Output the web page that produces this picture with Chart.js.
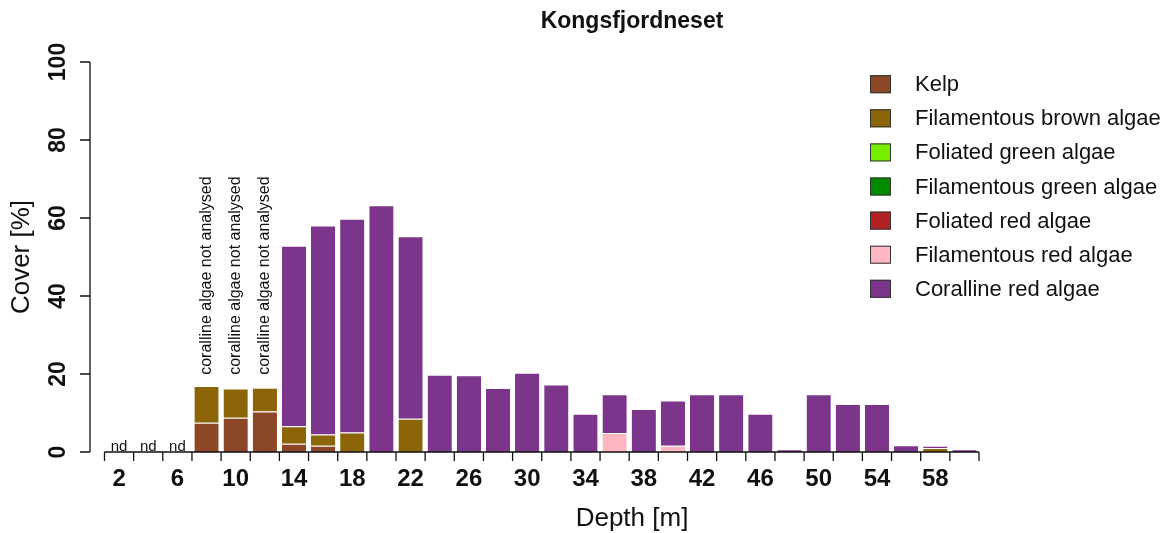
<!DOCTYPE html>
<html>
<head>
<meta charset="utf-8">
<title>Kongsfjordneset</title>
<script src="https://cdn.jsdelivr.net/npm/chart.js@4.4.1/dist/chart.umd.min.js"></script>
<style>
  html, body { margin: 0; padding: 0; background: #ffffff; }
  canvas { display: block; }
</style>
</head>
<body>
<canvas id="cover" width="1173" height="533"></canvas>
<script>
// Depth classes (m), one bar per class
const depths = [2, 4, 6, 8, 10, 12, 14, 16, 18, 20, 22, 24, 26, 28, 30,
                32, 34, 36, 38, 40, 42, 44, 46, 48, 50, 52, 54, 56, 58, 60];

// Cover (%) per algal group at each depth
const kelp          = [0, 0, 0, 7.5, 8.8, 10.4, 2.1, 1.6, 0, 0, 0, 0, 0, 0, 0,
                       0, 0, 0, 0, 0, 0, 0, 0, 0, 0, 0, 0, 0, 0, 0];
const filBrown      = [0, 0, 0, 9.4, 7.5, 6.1, 4.5, 2.9, 5.0, 0, 8.5, 0, 0, 0, 0,
                       0, 0, 0, 0, 0, 0, 0, 0, 0, 0, 0, 0, 0, 1.0, 0];
const folGreen      = [0, 0, 0, 0, 0, 0, 0, 0, 0, 0, 0, 0, 0, 0, 0,
                       0, 0, 0, 0, 0, 0, 0, 0, 0, 0, 0, 0, 0, 0, 0];
const filGreen      = [0, 0, 0, 0, 0, 0, 0, 0, 0, 0, 0, 0, 0, 0, 0,
                       0, 0, 0, 0, 0, 0, 0, 0, 0, 0, 0, 0, 0, 0, 0];
const folRed        = [0, 0, 0, 0, 0, 0, 0, 0, 0, 0, 0, 0, 0, 0, 0,
                       0, 0, 0, 0, 0, 0, 0, 0, 0, 0, 0, 0, 0, 0, 0];
const filRed        = [0, 0, 0, 0, 0, 0, 0, 0, 0, 0, 0, 0, 0, 0, 0,
                       0, 0, 4.9, 0, 1.6, 0, 0, 0, 0, 0, 0, 0, 0, 0, 0];
const coralline     = [0, 0, 0, 0, 0, 0, 46.3, 53.6, 54.8, 63.3, 46.8, 19.8, 19.7, 16.4, 20.3,
                       17.3, 9.8, 9.9, 11.0, 11.6, 14.8, 14.8, 9.8, 0.7, 14.8, 12.3, 12.3, 1.7, 0.6, 0.7];

// Group names and fill colours
const groupNames  = ['Kelp', 'Filamentous brown algae', 'Foliated green algae',
                     'Filamentous green algae', 'Foliated red algae',
                     'Filamentous red algae', 'Coralline red algae'];
const groupColors = ['#8B4726', '#8B6508', '#76EE00', '#008B00', '#B22222', '#FFB6C1', '#7B368C'];

// Axis ticks
const yTicks = [0, 20, 40, 60, 80, 100];
const xTickLabels = ['2', '6', '10', '14', '18', '22', '26', '30', '34', '38', '42', '46', '50', '54', '58'];

// Notes written at individual depths
const ndDepths = [2, 4, 6];
const notAnalysedDepths = [8, 10, 12];
const notAnalysedText = 'coralline algae not analysed';
const notAnalysedLevel = 19.8;

const FONT = '"Liberation Sans", Arial, Helvetica, sans-serif';
const INK = '#111111';

const series = [kelp, filBrown, folGreen, filGreen, folRed, filRed, coralline];

const datasets = series.map((values, i) => ({
  label: groupNames[i],
  data: values,
  backgroundColor: groupColors[i],
  borderColor: '#ffffff',
  borderWidth: { top: 1, right: 0, bottom: 0, left: 0 },
  borderSkipped: 'start',
  barPercentage: 0.833,
  categoryPercentage: 1.0,
  stack: 'cover'
}));

// Base-graphics style axes, labels, notes and legend
const decorations = {
  id: 'decorations',
  afterDraw(chart) {
    const { ctx, chartArea: area, scales } = chart;
    const xs = scales.x, ys = scales.y;
    const y0 = ys.getPixelForValue(0);
    const y100 = ys.getPixelForValue(100);
    const step = xs.getPixelForValue(1) - xs.getPixelForValue(0);
    ctx.save();
    ctx.strokeStyle = INK;
    ctx.fillStyle = INK;
    ctx.lineWidth = 1.3;

    // y axis, set off to the left of the bars
    const yAxisX = area.left - 14.5;
    ctx.beginPath();
    ctx.moveTo(yAxisX, y0);
    ctx.lineTo(yAxisX, y100);
    yTicks.forEach(v => {
      const py = ys.getPixelForValue(v);
      ctx.moveTo(yAxisX, py);
      ctx.lineTo(yAxisX - 10, py);
    });
    ctx.stroke();
    ctx.font = 'bold 23px ' + FONT;
    ctx.textAlign = 'center';
    ctx.textBaseline = 'middle';
    yTicks.forEach(v => {
      const py = ys.getPixelForValue(v);
      ctx.save();
      ctx.translate(yAxisX - 31, py);
      ctx.rotate(-Math.PI / 2);
      ctx.fillText(String(v), 0, 0);
      ctx.restore();
    });

    // x axis along the zero line with ticks between bars
    ctx.beginPath();
    ctx.moveTo(area.left, y0);
    ctx.lineTo(area.right, y0);
    for (let i = 0; i <= depths.length; i++) {
      const px = xs.getPixelForValue(i) - step / 2;
      ctx.moveTo(px, y0);
      ctx.lineTo(px, y0 + 9);
    }
    ctx.stroke();
    ctx.font = 'bold 24px ' + FONT;
    xTickLabels.forEach(lbl => {
      const idx = depths.indexOf(Number(lbl));
      ctx.fillText(lbl, xs.getPixelForValue(idx), y0 + 27);
    });

    // "nd" marks where no data exist
    ctx.font = '15px ' + FONT;
    ctx.textBaseline = 'alphabetic';
    ndDepths.forEach(d => {
      ctx.fillText('nd', xs.getPixelForValue(depths.indexOf(d)), y0 - 1);
    });

    // vertical notes above the shallow bars
    ctx.font = '16px ' + FONT;
    ctx.textAlign = 'left';
    ctx.textBaseline = 'middle';
    notAnalysedDepths.forEach(d => {
      ctx.save();
      ctx.translate(xs.getPixelForValue(depths.indexOf(d)), ys.getPixelForValue(notAnalysedLevel));
      ctx.rotate(-Math.PI / 2);
      ctx.fillText(notAnalysedText, 0, 0);
      ctx.restore();
    });

    // titles
    const midX = 632;
    ctx.textAlign = 'center';
    ctx.font = 'bold 23px ' + FONT;
    ctx.fillText('Kongsfjordneset', midX, 22);
    ctx.font = '26px ' + FONT;
    ctx.fillText('Depth [m]', midX, 519);
    ctx.save();
    ctx.translate(22, (y0 + y100) / 2);
    ctx.rotate(-Math.PI / 2);
    ctx.fillText('Cover [%]', 0, 0);
    ctx.restore();

    // legend
    ctx.font = '22px ' + FONT;
    ctx.textAlign = 'left';
    ctx.lineWidth = 1;
    ctx.strokeStyle = '#333333';
    chart.data.datasets.forEach((ds, i) => {
      const cy = 84.2 + i * 34.1;
      ctx.fillStyle = ds.backgroundColor;
      ctx.fillRect(870, cy - 9, 21, 18);
      ctx.strokeRect(870.5, cy - 8.5, 20, 17);
      ctx.fillStyle = INK;
      ctx.fillText(ds.label, 915, cy + 1);
    });
    ctx.restore();
  }
};

new Chart(document.getElementById('cover'), {
  type: 'bar',
  data: { labels: depths.map(String), datasets },
  options: {
    responsive: false,
    animation: false,
    layout: { padding: { left: 104.5, right: 194, top: 62, bottom: 81 } },
    plugins: {
      legend: { display: false },
      title: { display: false },
      tooltip: { enabled: false }
    },
    scales: {
      x: { type: 'category', stacked: true, display: false, offset: true },
      y: { stacked: true, display: false, min: 0, max: 100 }
    }
  },
  plugins: [decorations]
});
</script>
</body>
</html>
